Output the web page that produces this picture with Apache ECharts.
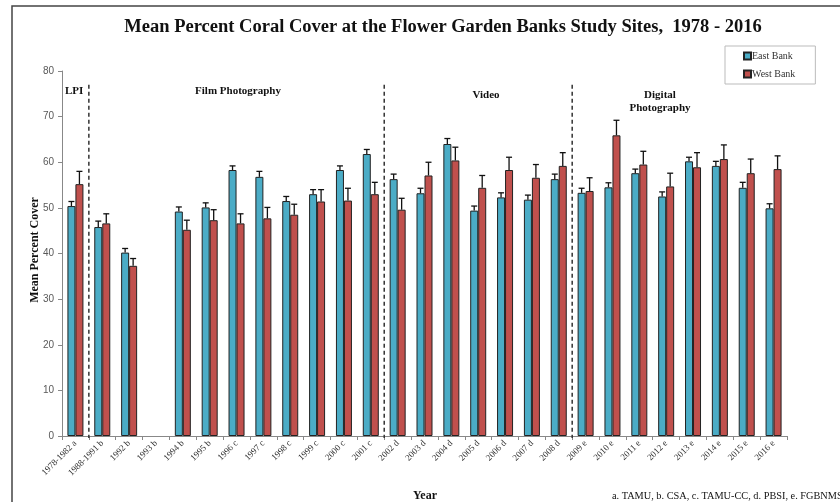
<!DOCTYPE html>
<html><head><meta charset="utf-8">
<script src="https://cdn.jsdelivr.net/npm/echarts@6/dist/echarts.min.js"></script>
<style>html,body{margin:0;padding:0;background:#fff}#c{width:840px;height:502px}</style>
</head><body><div id="c"></div>
<script>
var categories = ['1978-1982 a','1988-1991 b','1992 b','1993 b','1994 b','1995 b','1996 c','1997 c','1998 c','1999 c','2000 c','2001 c','2002 d','2003 d','2004 d','2005 d','2006 d','2007 d','2008 d','2009 e','2010 e','2011 e','2012 e','2013 e','2014 e','2015 e','2016 e'];
var eastBank = [50.4,45.8,40.2,null,49.2,50.1,58.3,56.8,51.5,53.0,58.3,61.8,56.3,53.2,64.0,49.4,52.3,51.8,56.3,53.3,54.5,57.6,52.5,60.2,59.2,54.4,49.9];
var eastErr  = [1.0,1.3,0.9,null,1.0,1.0,0.9,1.2,1.0,1.0,0.9,1.0,1.1,1.1,1.2,1.0,1.0,1.0,1.1,1.0,1.0,0.9,1.0,0.9,1.0,1.2,1.0];
var westBank = [55.2,46.6,37.3,null,45.2,47.3,46.6,47.7,48.5,51.4,51.6,53.0,49.6,57.1,60.4,54.4,58.3,56.6,59.2,53.7,65.9,59.5,54.7,58.9,60.7,57.6,58.5];
var westErr  = [2.8,2.1,1.6,null,2.1,2.3,2.1,2.4,2.3,2.6,2.7,2.6,2.5,2.9,2.9,2.7,2.8,2.9,2.9,2.9,3.3,2.9,2.9,3.2,3.1,3.1,2.9];
var yTicks = [0,10,20,30,40,50,60,70,80];
var sectionStarts = ['1988-1991 b','2002 d','2009 e'];
var sectionLabels = ['LPI','Film Photography','Video','Digital\nPhotography'];

var BW = 8;
var serif = '"Liberation Serif","Times New Roman",serif';

function errSeries(vals, errs, offset) {
  var data = categories.map(function (c, i) { return vals[i] == null ? null : [i, vals[i], errs[i]]; }).filter(function (d) { return d; });
  return {
    type: 'custom', silent: true, z: 5,
    renderItem: function (params, api) {
      var base = api.coord([api.value(0), api.value(1)]);
      var top = api.coord([api.value(0), api.value(1) + api.value(2)]);
      var x = base[0] + offset;
      return { type: 'group', children: [
        { type: 'line', shape: { x1: x, y1: base[1], x2: x, y2: top[1] }, style: { stroke: '#111', lineWidth: 1.3 } },
        { type: 'line', shape: { x1: x - 3, y1: top[1], x2: x + 3, y2: top[1] }, style: { stroke: '#111', lineWidth: 1.3 } }
      ]};
    },
    data: data
  };
}

var dividerSeries = {
  type: 'custom', silent: true, z: 3,
  renderItem: function (params, api) {
    var idx = api.value(0);
    var p = api.coord([idx, 77]);
    var p0 = api.coord([idx, 0]);
    var half = api.size([1, 0])[0] / 2;
    var x = p[0] - half;
    return { type: 'line', shape: { x1: x, y1: p[1], x2: x, y2: p0[1] + 2 }, style: { stroke: '#333', lineWidth: 1.5, lineDash: [4, 3] } };
  },
  data: sectionStarts.map(function (s) { return [categories.indexOf(s), 77]; })
};

var chart = echarts.init(document.getElementById('c'));
chart.setOption({
  animation: false,
  backgroundColor: '#fff',
  title: {
    text: 'Mean Percent Coral Cover at the Flower Garden Banks Study Sites,  1978 - 2016',
    left: 438, textAlign: 'center', top: 13,
    textStyle: { fontFamily: serif, fontWeight: 'bold', fontSize: 18.5, color: '#111' }
  },
  legend: {
    orient: 'vertical', left: 725, top: 46, width: 91,
    padding: [5, 20, 5, 18], itemGap: 8,
    borderColor: '#bbb', borderWidth: 1,
    itemWidth: 7, itemHeight: 7, icon: 'rect',
    textStyle: { fontFamily: serif, fontSize: 10, color: '#333', padding: [0, 0, 0, -4] },
    data: ['East Bank', 'West Bank']
  },
  grid: { left: 62, right: 53, top: 71, bottom: 66, containLabel: false },
  xAxis: {
    type: 'category', data: categories,
    axisLine: { lineStyle: { color: '#888', width: 1 } },
    axisTick: { show: true, length: 4, lineStyle: { color: '#888' } },
    axisLabel: { rotate: 45, fontFamily: serif, fontSize: 9, color: '#333', interval: 0, margin: 6 }
  },
  yAxis: {
    type: 'value', min: yTicks[0], max: yTicks[yTicks.length - 1], interval: 10,
    splitLine: { show: false },
    axisLine: { show: true, lineStyle: { color: '#888' } },
    axisTick: { show: true, length: 4, lineStyle: { color: '#888' } },
    axisLabel: { fontSize: 10, color: '#595959', fontFamily: '"Liberation Sans",sans-serif', margin: 8 }
  },
  series: [
    { name: 'East Bank', type: 'bar', data: eastBank, barWidth: BW, barGap: '0%',
      itemStyle: { color: '#4bacc6', borderColor: '#222', borderWidth: 1 } },
    { name: 'West Bank', type: 'bar', data: westBank, barWidth: BW, barGap: '0%',
      itemStyle: { color: '#c0504d', borderColor: '#222', borderWidth: 1 } },
    errSeries(eastBank, eastErr, -BW / 2),
    errSeries(westBank, westErr, BW / 2),
    dividerSeries
  ],
  graphic: [
    { type: 'rect', shape: { x: 12, y: 6, width: 900, height: 600 }, style: { fill: 'none', stroke: '#444', lineWidth: 1.5 }, silent: true },
    { type: 'text', left: 65, top: 86, style: { text: sectionLabels[0], font: 'bold 11px ' + serif, fill: '#111' } },
    { type: 'text', x: 238, y: 86, style: { text: sectionLabels[1], font: 'bold 11px ' + serif, fill: '#111', textAlign: 'center' } },
    { type: 'text', x: 486, y: 90, style: { text: sectionLabels[2], font: 'bold 11px ' + serif, fill: '#111', textAlign: 'center' } },
    { type: 'text', x: 660, y: 89, style: { text: sectionLabels[3], font: 'bold 11px ' + serif, fill: '#111', textAlign: 'center', lineHeight: 13 } },
    { type: 'text', x: 35, y: 250, rotation: Math.PI / 2, style: { text: 'Mean Percent Cover', font: 'bold 12px ' + serif, fill: '#111', textAlign: 'center', textVerticalAlign: 'middle' } },
    { type: 'text', x: 425, y: 496, style: { text: 'Year', font: 'bold 12px ' + serif, fill: '#111', textAlign: 'center', textVerticalAlign: 'middle' } },
    { type: 'text', x: 612, y: 496, style: { text: 'a. TAMU, b. CSA, c. TAMU-CC, d. PBSI, e. FGBNMS', font: '10.3px ' + serif, fill: '#111', textVerticalAlign: 'middle' } }
  ]
});
</script></body></html>
